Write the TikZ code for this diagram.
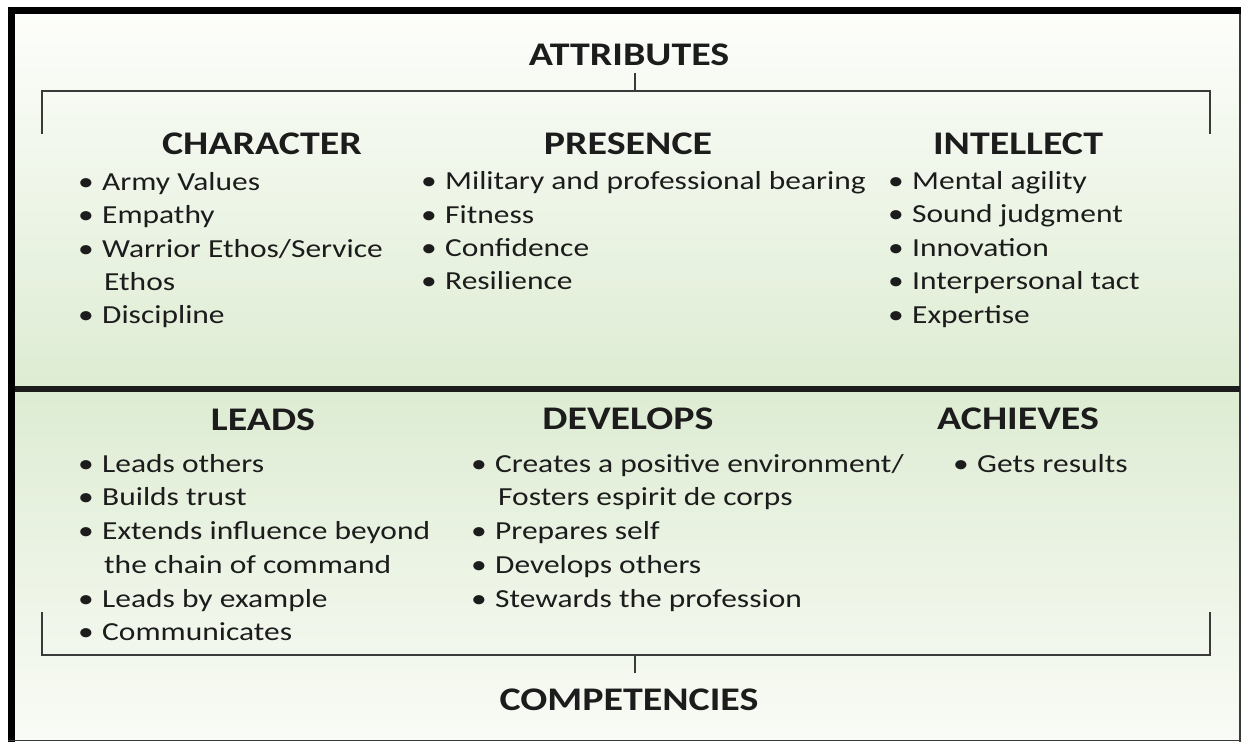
\documentclass[tikz,border=0pt]{standalone}
\usepackage{fontspec}
\setmainfont[FakeStretch=1.21]{Carlito}
\definecolor{ink}{HTML}{1C1C1C}
\definecolor{rule}{HTML}{3A3A3A}
\definecolor{gtop}{HTML}{FDFEFB}
\definecolor{gmid}{HTML}{DEECD3}
\definecolor{gbot}{HTML}{F9FBF6}
\newcommand{\bul}[1]{\makebox[24pt][l]{•}#1}
\tikzset{
  head/.style={anchor=base, inner sep=0pt, text=ink, font=\fontsize{33}{33}\selectfont\bfseries},
  item/.style={anchor=base west, inner sep=0pt, text=ink, font=\fontsize{26}{26}\selectfont},
  brk/.style={draw=rule, line width=2pt},
}
\begin{document}
\begin{tikzpicture}[x=1pt,y=-1pt]
\useasboundingbox (0,0) rectangle (1241,742);
\fill[white] (0,0) rectangle (1241,742);
\shade[top color=gtop, bottom color=gmid] (15,14) rectangle (1240,386);
\shade[top color=gmid, bottom color=gbot] (15,391) rectangle (1240,740);
% frame
\draw[black, line width=7pt] (8,10.5) -- (1241,10.5);
\draw[black, line width=7pt] (11.5,7) -- (11.5,742);
\draw[rule, line width=1.2pt] (1240,14) -- (1240,742);
\draw[rule, line width=1.2pt] (8,740.5) -- (1241,740.5);
% divider
\draw[ink, line width=6pt] (15,388.5) -- (1240,388.5);

% top bracket
\coordinate (tl) at (42,134);
\coordinate (tr) at (1210,134);
\node[head] (attr) at (629,65) {ATTRIBUTES};
\coordinate (ttick) at (635,73);
\draw[brk] (tl) -- (42,91) -- (1210,91) -- (tr);
\draw[brk] (ttick) -- (635,91);

% bottom bracket
\coordinate (bl) at (42,612);
\coordinate (br) at (1210,612);
\node[head] (comp) at (629,710) {COMPETENCIES};
\coordinate (btick) at (635,673);
\draw[brk] (bl) -- (42,655) -- (1210,655) -- (br);
\draw[brk] (btick) -- (635,655);

% Attributes
\node[head] (char) at (262,154) {CHARACTER};
\node[head] (pres) at (628,154) {PRESENCE};
\node[head] (intel) at (1018,154) {INTELLECT};

\node[item] (c1) at (78,190) {\bul{Army Values}};
\node[item] (c2) at (78,223) {\bul{Empathy}};
\node[item] (c3) at (78,257) {\bul{Warrior Ethos/Service}};
\node[item] (c3b) at (104,290) {Ethos};
\node[item] (c4) at (78,323) {\bul{Discipline}};

\node[item] (p1) at (421,189) {\bul{Military and professional bearing}};
\node[item] (p2) at (421,223) {\bul{Fitness}};
\node[item] (p3) at (421,256) {\bul{Confidence}};
\node[item] (p4) at (421,289) {\bul{Resilience}};

\node[item] (i1) at (888,189) {\bul{Mental agility}};
\node[item] (i2) at (888,222) {\bul{Sound judgment}};
\node[item] (i3) at (888,256) {\bul{Innovation}};
\node[item] (i4) at (888,289) {\bul{Interpersonal tact}};
\node[item] (i5) at (888,323) {\bul{Expertise}};

% Competencies
\node[head] (leads) at (263,430) {LEADS};
\node[head] (dev) at (628,429) {DEVELOPS};
\node[head] (ach) at (1018,429) {ACHIEVES};

\node[item] (l1) at (78,472) {\bul{Leads others}};
\node[item] (l2) at (78,505) {\bul{Builds trust}};
\node[item] (l3) at (78,539) {\bul{Extends influence beyond}};
\node[item] (l3b) at (104,573) {the chain of command};
\node[item] (l4) at (78,607) {\bul{Leads by example}};
\node[item] (l5) at (78,640) {\bul{Communicates}};

\node[item] (d1) at (471,472) {\bul{Creates a positive environment/}};
\node[item] (d1b) at (498,505) {Fosters espirit de corps};
\node[item] (d2) at (471,539) {\bul{Prepares self}};
\node[item] (d3) at (471,573) {\bul{Develops others}};
\node[item] (d4) at (471,607) {\bul{Stewards the profession}};

\node[item] (a1) at (953,472) {\bul{Gets results}};
\end{tikzpicture}
\end{document}
